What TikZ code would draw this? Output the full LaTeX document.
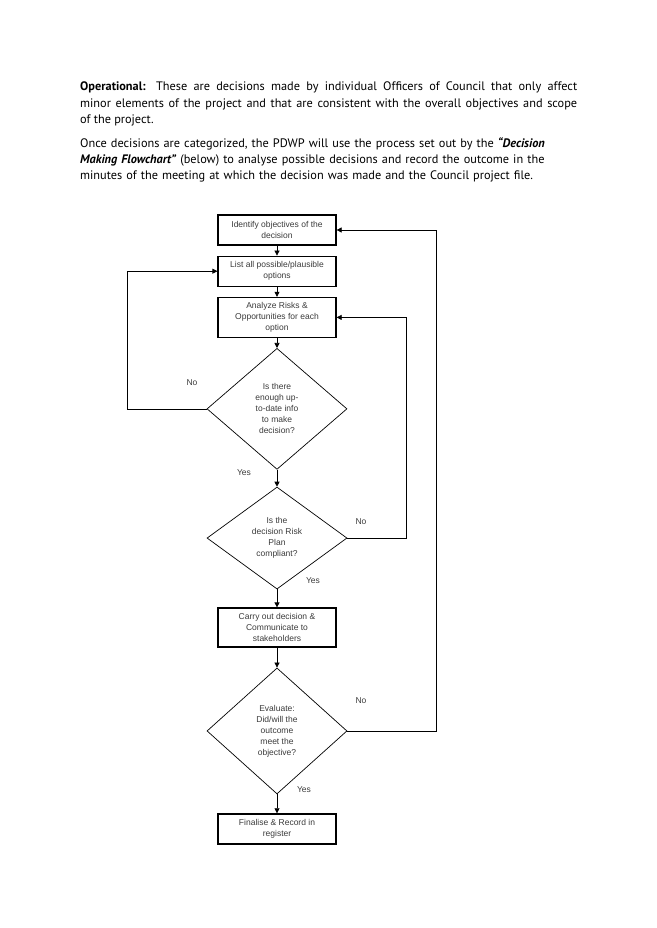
\documentclass[tikz,border=0pt]{standalone}
\usepackage{fontspec}
\setmainfont{PT Sans}
\newfontfamily\chartfont{Liberation Sans}
\usetikzlibrary{positioning,shapes.geometric,arrows.meta}
\definecolor{chartgrey}{HTML}{3A3A3A}

\begin{document}
\begin{tikzpicture}[
    x=1pt,y=-1pt,
    stepbox/.style={rectangle,draw,line width=1.2pt,minimum width=118pt,minimum height=30pt,
      inner sep=0pt,align=center,text=chartgrey,font=\chartfont\fontsize{8.5}{10.8}\selectfont},
    query/.style={diamond,draw,line width=0.7pt,minimum width=140pt,inner sep=0pt,
      align=center,text=chartgrey,font=\chartfont\fontsize{8.5}{11}\selectfont},
    answer/.style={inner sep=0pt,text=chartgrey,font=\chartfont\fontsize{8.5}{10}\selectfont},
    flow/.style={-{Triangle[length=5pt,width=5pt]},line width=0.7pt},
    prose/.style={anchor=north west,inner sep=0pt,text width=497pt,font=\fontsize{12.3}{16.3}\selectfont}
    ]

    \useasboundingbox (0,0) rectangle (656,928);

    \node (operational) [prose,align=justify] at (80,82)
      {\textbf{Operational:} These are decisions made by individual Officers of Council that only affect\linebreak
       minor elements of the project and that are consistent with the overall objectives and scope\linebreak
       of the project.};
    \node (process) [prose,align=left] at (80,137)
      {Once decisions are categorized, the PDWP will use the process set out by the \textbf{\textit{“Decision}}\\
       \textbf{\textit{Making Flowchart”}} (below) to analyse possible decisions and record the outcome in the\\
       minutes of the meeting at which the decision was made and the Council project file.};

    \node (objectives) [stepbox] at (277,230) {Identify objectives of the\\decision};
    \node (options) [stepbox,below=10pt of objectives] {List all possible/plausible\\options};
    \node (risks) [stepbox,below=10pt of options,minimum height=40pt] {Analyze Risks \&\\Opportunities for each\\option};
    \node (enough) [query,below=10pt of risks,minimum height=121pt] {Is there\\enough up-\\to-date info\\to make\\decision?};
    \node (compliant) [query,below=17pt of enough,minimum height=102pt] {Is the\\decision Risk\\Plan\\compliant?};
    \node (carry) [stepbox,below=18pt of compliant,minimum height=39pt] {Carry out decision \&\\Communicate to\\stakeholders};
    \node (evaluate) [query,below=20pt of carry,minimum height=126pt] {Evaluate:\\Did/will the\\outcome\\meet the\\objective?};
    \node (record) [stepbox,below=19pt of evaluate] {Finalise \& Record in\\register};

    \draw[flow] (objectives) to (options);
    \draw[flow] (options) to (risks);
    \draw[flow] (risks) to (enough);
    \draw[flow] (enough) to (compliant);
    \draw[flow] (compliant) to (carry);
    \draw[flow] (carry) to (evaluate);
    \draw[flow] (evaluate) to (record);

    \draw[flow] (enough.west) -- ++(-79,0) |- (options.west);
    \draw[flow] (compliant.east) -- ++(59,0) |- (risks.east);
    \draw[flow] (evaluate.east) -- ++(89,0) |- (objectives.east);

    \node (no1) [answer] at (192,383) {No};
    \node (yes1) [answer] at (244,473) {Yes};
    \node (no2) [answer] at (361,522) {No};
    \node (yes2) [answer] at (313,581) {Yes};
    \node (no3) [answer] at (361,701) {No};
    \node (yes3) [answer] at (304,790) {Yes};

  \end{tikzpicture}
\end{document}
